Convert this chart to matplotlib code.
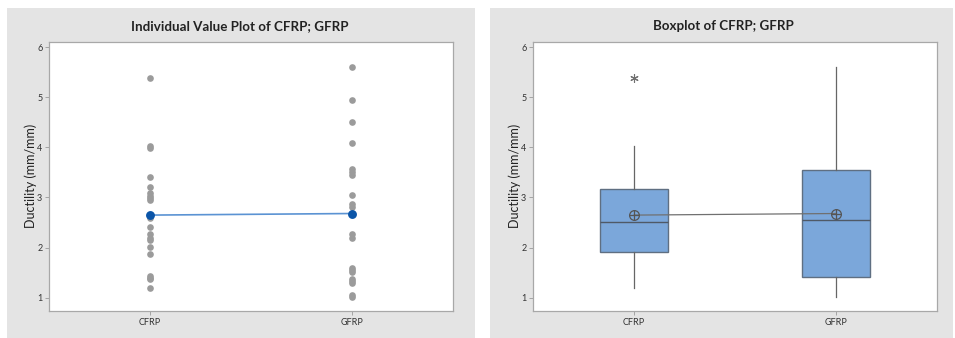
import numpy as np
import matplotlib.pyplot as plt
from matplotlib.patches import Rectangle

# Data
groups = ["CFRP", "GFRP"]
cfrp = np.array([1.2, 1.38, 1.40, 1.43, 1.88, 2.02, 2.15, 2.2, 2.27, 2.42,
                 2.6, 2.95, 2.98, 3.02, 3.08, 3.2, 3.4, 3.98, 4.03, 5.38])
gfrp = np.array([1.01, 1.05, 1.29, 1.33, 1.38, 1.52, 1.55, 1.6, 2.2, 2.28,
                 2.82, 2.87, 3.05, 3.45, 3.5, 3.57, 4.08, 4.5, 4.95, 5.6])
data = [cfrp, gfrp]
yticks = [1, 2, 3, 4, 5, 6]

plt.rcParams['font.family'] = ['Lato', 'DejaVu Sans']

W, H = 955, 338
fig = plt.figure(figsize=(W / 100, H / 100), dpi=100)

panel_col = "#e4e4e4"
fig.patches.append(Rectangle((6.7 / W, 0), 468 / W, 329.7 / H, transform=fig.transFigure,
                             facecolor=panel_col, edgecolor="none", zorder=-10))
fig.patches.append(Rectangle((490 / W, 0), 463 / W, 329.7 / H, transform=fig.transFigure,
                             facecolor=panel_col, edgecolor="none", zorder=-10))

ax1 = fig.add_axes([49.3 / W, 27 / H, 403.4 / W, 269.3 / H])
ax2 = fig.add_axes([533.3 / W, 27 / H, 403.4 / W, 269.3 / H])

x = np.arange(1, len(groups) + 1)
means = [d.mean() for d in data]

# --- Individual value plot ---
for xi, d in zip(x, data):
    ax1.plot(np.full(len(d), xi), d, "o", color="#9b9b9b", ms=4.8, mec="none", zorder=2)
ax1.plot(x, means, "-", color="#5b93d3", lw=1.2, zorder=3)
ax1.plot(x, means, "o", color="#0b55a8", ms=6.4, mec="none", zorder=4)

# --- Boxplot (quartiles as in Minitab) ---
stats = []
for d in data:
    q1, med, q3 = np.percentile(d, [25, 50, 75], method="weibull")
    iqr = q3 - q1
    lo = d[d >= q1 - 1.5 * iqr].min()
    hi = d[d <= q3 + 1.5 * iqr].max()
    fl = d[(d < lo) | (d > hi)]
    stats.append(dict(q1=q1, med=med, q3=q3, whislo=lo, whishi=hi, fliers=fl, mean=d.mean()))

ax2.bxp(stats, positions=x, widths=0.335, patch_artist=True, showcaps=False,
        boxprops=dict(facecolor="#7ba7da", edgecolor="#5f6f82", lw=1.0),
        medianprops=dict(color="#4f5966", lw=1.0),
        whiskerprops=dict(color="#666666", lw=0.9),
        flierprops=dict(marker=(6, 2, 0), markeredgecolor="#707070", ms=6, mew=0.8),
        showfliers=True)
ax2.plot(x, means, "-", color="#707070", lw=0.9, zorder=5)
ax2.plot(x, means, "o", mfc="none", mec="#555555", ms=7, mew=0.9, zorder=6)
ax2.plot(x, means, "+", color="#555555", ms=7, mew=0.9, zorder=6)

titles = ["Individual Value Plot of CFRP; GFRP", "Boxplot of CFRP; GFRP"]
centers = [240, 723]
for ax, t, c in zip([ax1, ax2], titles, centers):
    ax.set_xlim(0.5, 2.5)
    ax.set_ylim(0.734, 6.11)
    ax.set_xticks(x)
    ax.set_xticklabels(groups, fontsize=6.5, color="#333333")
    ax.set_yticks(yticks)
    ax.set_yticklabels([str(v) for v in yticks], fontsize=6.5, color="#333333")
    ax.tick_params(axis="both", length=3, width=0.6, color="#999999", pad=2)
    ax.set_ylabel("Ductility (mm/mm)", fontsize=9, color="#222222", labelpad=0)
    for s in ax.spines.values():
        s.set_color("#a8a8a8")
        s.set_linewidth(0.9)
    fig.text(c / W, (H - 25.7) / H, t, ha="center", va="center", fontsize=9.6,
             fontweight="bold", color="#222222")

fig.savefig("out.png", dpi=100)
